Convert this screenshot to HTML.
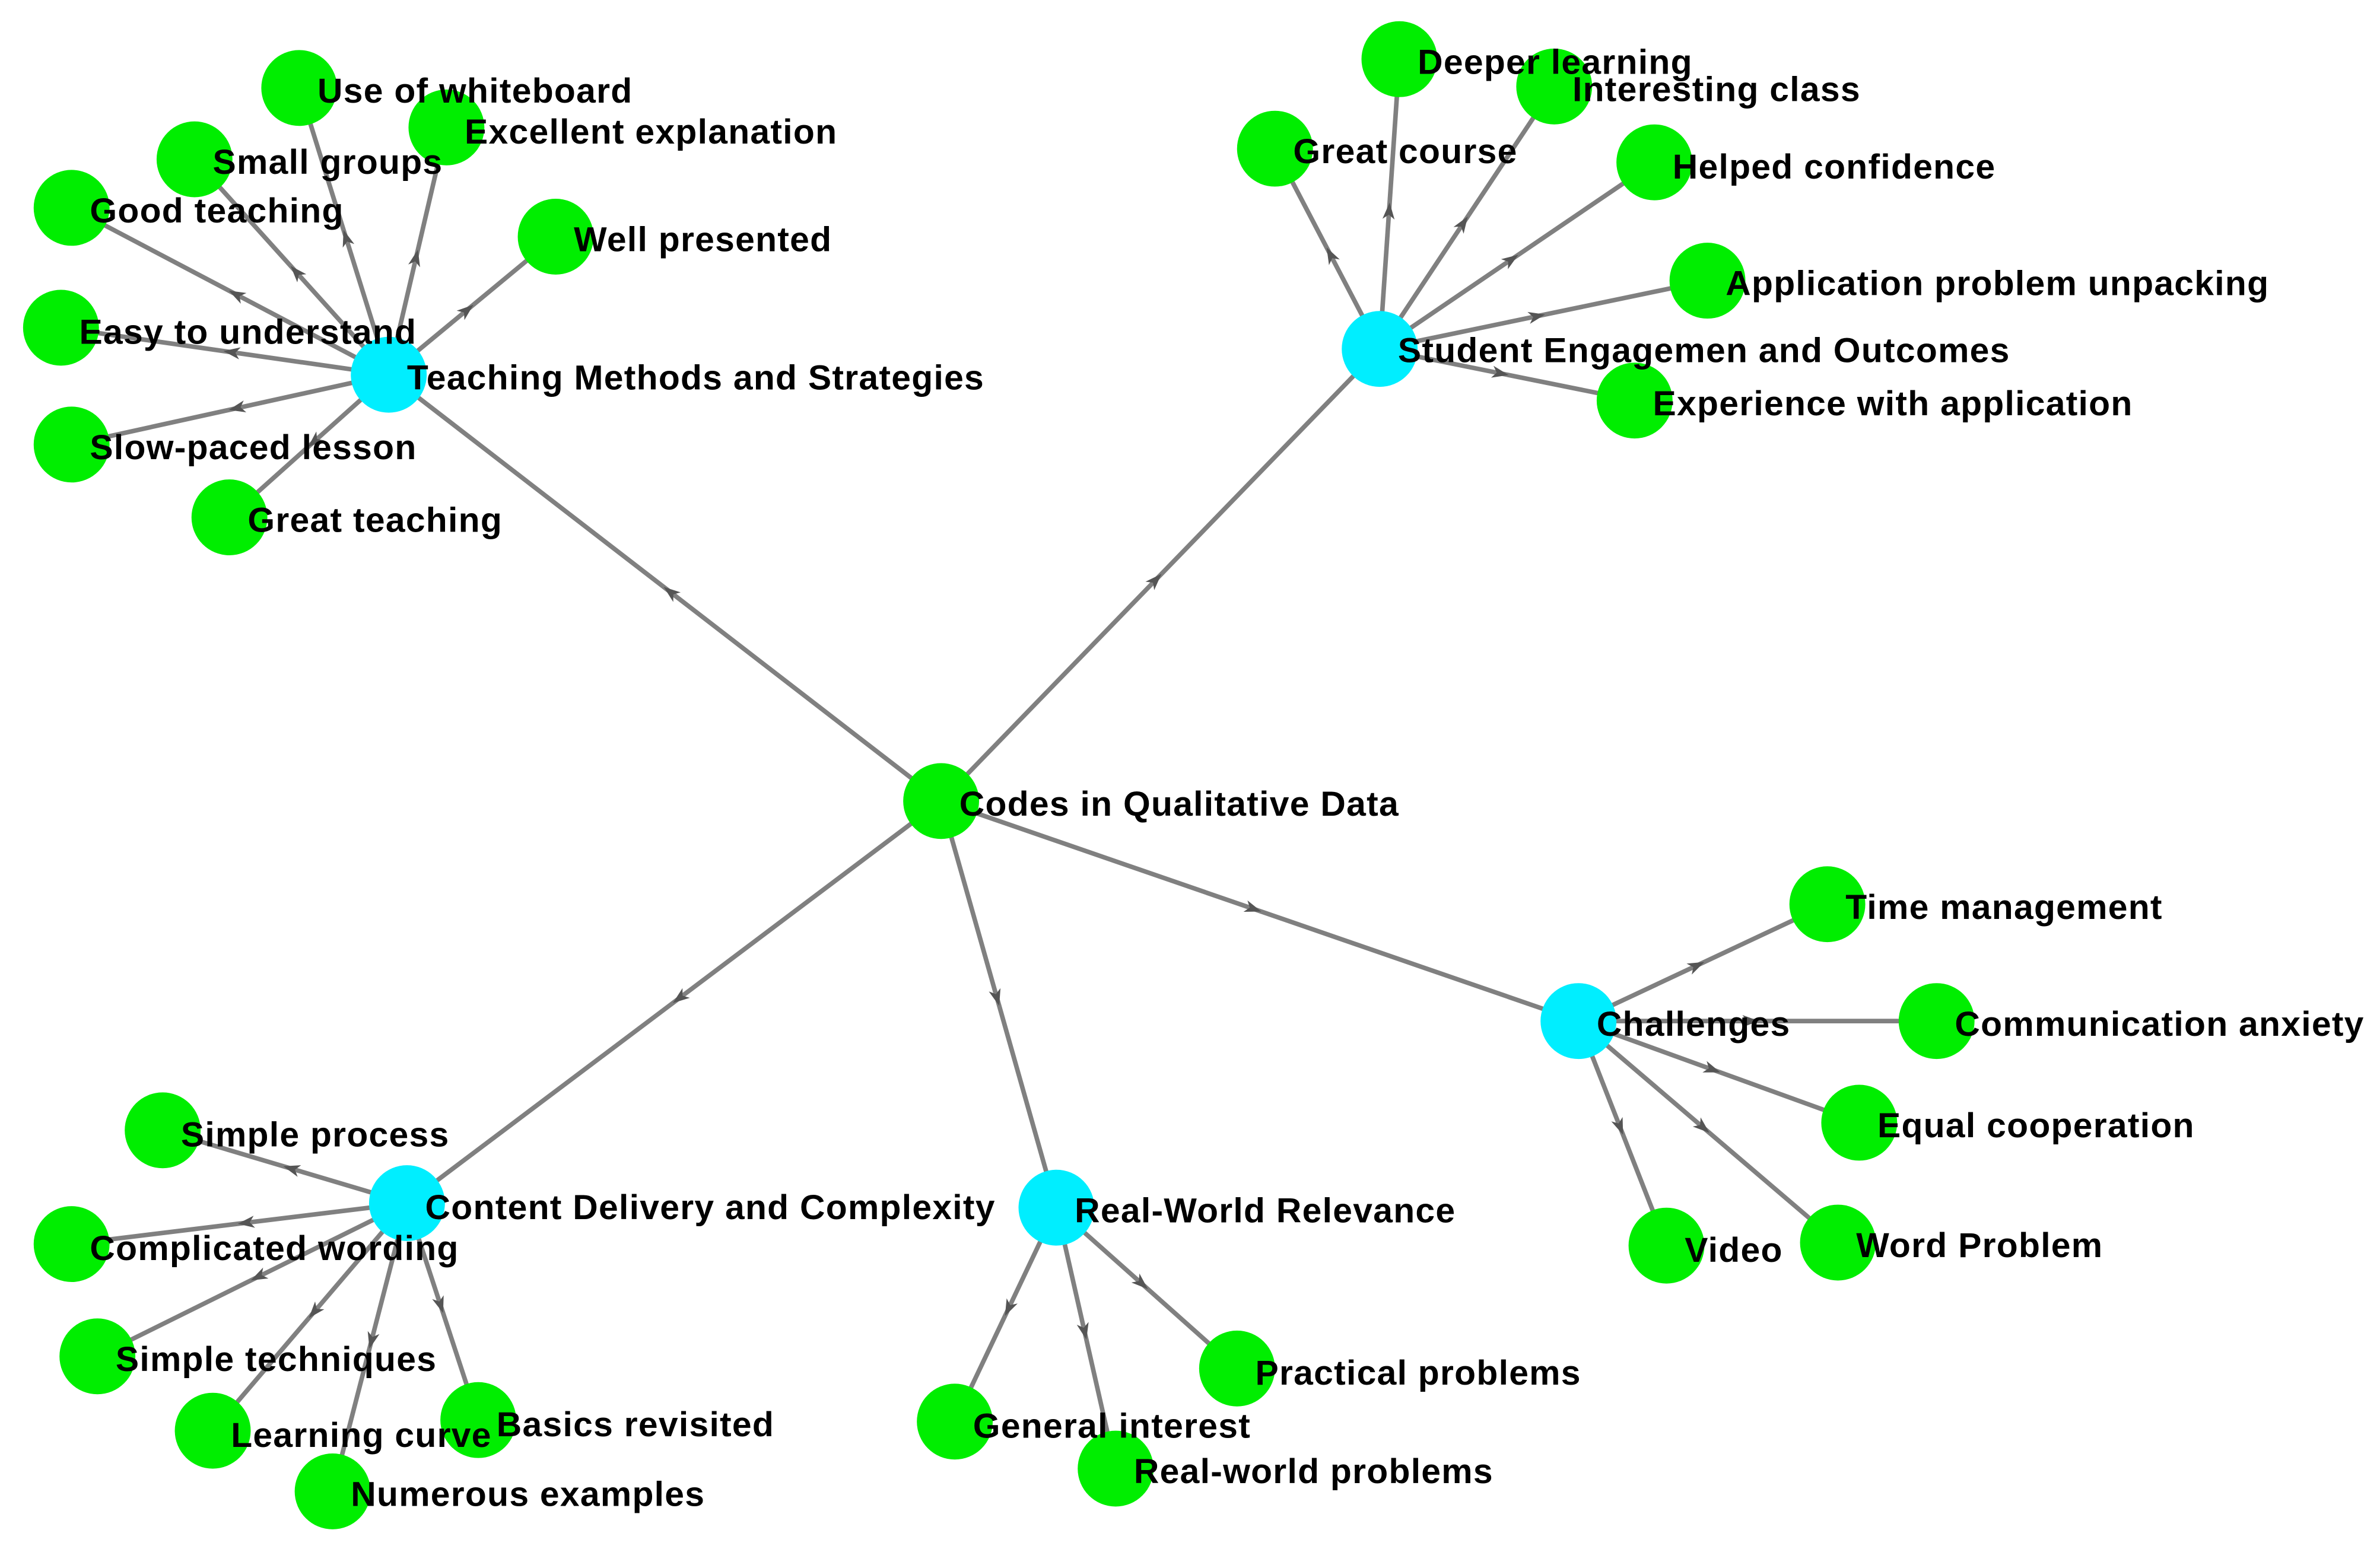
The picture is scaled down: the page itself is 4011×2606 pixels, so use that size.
<!DOCTYPE html>
<html><head><meta charset="utf-8"><style>
html,body{margin:0;padding:0;background:#fff;}
svg{display:block;}
text{font-family:"Liberation Sans",Arial,sans-serif;font-weight:bold;font-size:23px;letter-spacing:0.5px;fill:#000;dominant-baseline:central;}
</style></head><body>
<svg width="4011" height="2606" viewBox="0 0 1568 1019" xmlns="http://www.w3.org/2000/svg">
<defs>
<marker id="a" markerWidth="12" markerHeight="10" refX="10" refY="5" orient="auto" markerUnits="userSpaceOnUse">
<path d="M0,1 L11,5 L0,9 L3,5 Z" fill="#555"/>
</marker>
</defs>
<g stroke="#808080" stroke-width="3" fill="none">
<line x1="620" y1="528" x2="256" y2="247"/>
<line x1="620" y1="528" x2="909" y2="230"/>
<line x1="620" y1="528" x2="1040" y2="673"/>
<line x1="620" y1="528" x2="696" y2="796"/>
<line x1="620" y1="528" x2="268" y2="793"/>
<line x1="256" y1="247" x2="197" y2="58"/>
<line x1="256" y1="247" x2="294" y2="84"/>
<line x1="256" y1="247" x2="128" y2="105"/>
<line x1="256" y1="247" x2="47" y2="137"/>
<line x1="256" y1="247" x2="366" y2="156"/>
<line x1="256" y1="247" x2="40" y2="216"/>
<line x1="256" y1="247" x2="47" y2="293"/>
<line x1="256" y1="247" x2="151" y2="341"/>
<line x1="909" y1="230" x2="922" y2="39"/>
<line x1="909" y1="230" x2="1024" y2="57"/>
<line x1="909" y1="230" x2="840" y2="98"/>
<line x1="909" y1="230" x2="1090" y2="107"/>
<line x1="909" y1="230" x2="1125" y2="185"/>
<line x1="909" y1="230" x2="1077" y2="264"/>
<line x1="1040" y1="673" x2="1204" y2="596"/>
<line x1="1040" y1="673" x2="1276" y2="673"/>
<line x1="1040" y1="673" x2="1225" y2="740"/>
<line x1="1040" y1="673" x2="1098" y2="821"/>
<line x1="1040" y1="673" x2="1211" y2="819"/>
<line x1="696" y1="796" x2="815" y2="902"/>
<line x1="696" y1="796" x2="629" y2="937"/>
<line x1="696" y1="796" x2="735" y2="968"/>
<line x1="268" y1="793" x2="107" y2="745"/>
<line x1="268" y1="793" x2="47" y2="820"/>
<line x1="268" y1="793" x2="64" y2="894"/>
<line x1="268" y1="793" x2="140" y2="943"/>
<line x1="268" y1="793" x2="315" y2="936"/>
<line x1="268" y1="793" x2="219" y2="983"/>
</g>
<g stroke="none" fill="none" marker-end="url(#a)">
<path d="M620,528 L438,387.5"/>
<path d="M620,528 L764.5,379"/>
<path d="M620,528 L830,600.5"/>
<path d="M620,528 L658,662"/>
<path d="M620,528 L444,660.5"/>
<path d="M256,247 L226.5,152.5"/>
<path d="M256,247 L275,165.5"/>
<path d="M256,247 L192,176"/>
<path d="M256,247 L151.5,192"/>
<path d="M256,247 L311,201.5"/>
<path d="M256,247 L148,231.5"/>
<path d="M256,247 L151.5,270"/>
<path d="M256,247 L203.5,294"/>
<path d="M909,230 L915.5,134.5"/>
<path d="M909,230 L966.5,143.5"/>
<path d="M909,230 L874.5,164"/>
<path d="M909,230 L999.5,168.5"/>
<path d="M909,230 L1017,207.5"/>
<path d="M909,230 L993,247"/>
<path d="M1040,673 L1122,634.5"/>
<path d="M1040,673 L1158,673"/>
<path d="M1040,673 L1132.5,706.5"/>
<path d="M1040,673 L1069,747"/>
<path d="M1040,673 L1125.5,746"/>
<path d="M696,796 L755.5,849"/>
<path d="M696,796 L662.5,866.5"/>
<path d="M696,796 L715.5,882"/>
<path d="M268,793 L187.5,769"/>
<path d="M268,793 L157.5,806.5"/>
<path d="M268,793 L166,843.5"/>
<path d="M268,793 L204,868"/>
<path d="M268,793 L291.5,864.5"/>
<path d="M268,793 L243.5,888"/>
</g>
<g fill="#00ee00">
<circle cx="620" cy="528" r="25"/>
<circle cx="197" cy="58" r="25"/><circle cx="294" cy="84" r="25"/><circle cx="128" cy="105" r="25"/>
<circle cx="47" cy="137" r="25"/><circle cx="366" cy="156" r="25"/><circle cx="40" cy="216" r="25"/>
<circle cx="47" cy="293" r="25"/><circle cx="151" cy="341" r="25"/>
<circle cx="922" cy="39" r="25"/><circle cx="1024" cy="57" r="25"/><circle cx="840" cy="98" r="25"/>
<circle cx="1090" cy="107" r="25"/><circle cx="1125" cy="185" r="25"/><circle cx="1077" cy="264" r="25"/>
<circle cx="1204" cy="596" r="25"/><circle cx="1276" cy="673" r="25"/><circle cx="1225" cy="740" r="25"/>
<circle cx="1098" cy="821" r="25"/><circle cx="1211" cy="819" r="25"/>
<circle cx="815" cy="902" r="25"/><circle cx="629" cy="937" r="25"/><circle cx="735" cy="968" r="25"/>
<circle cx="107" cy="745" r="25"/><circle cx="47" cy="820" r="25"/><circle cx="64" cy="894" r="25"/>
<circle cx="140" cy="943" r="25"/><circle cx="315" cy="936" r="25"/><circle cx="219" cy="983" r="25"/>
</g>
<g fill="#00eeff">
<circle cx="256" cy="247" r="25"/><circle cx="909" cy="230" r="25"/><circle cx="1040" cy="673" r="25"/>
<circle cx="696" cy="796" r="25"/><circle cx="268" cy="793" r="25"/>
</g>
<g>
<text x="632" y="530">Codes in Qualitative Data</text>
<text x="268" y="249">Teaching Methods and Strategies</text>
<text x="921" y="231">Student Engagemen and Outcomes</text>
<text x="1052" y="675">Challenges</text>
<text x="708" y="798">Real-World Relevance</text>
<text x="280" y="796">Content Delivery and Complexity</text>
<text x="209" y="60">Use of whiteboard</text>
<text x="306" y="87">Excellent explanation</text>
<text x="140" y="107">Small groups</text>
<text x="59" y="139">Good teaching</text>
<text x="378" y="158">Well presented</text>
<text x="52" y="219">Easy to understand</text>
<text x="59" y="295">Slow-paced lesson</text>
<text x="163" y="343">Great teaching</text>
<text x="934" y="41">Deeper learning</text>
<text x="1036" y="59">Interesting class</text>
<text x="852" y="100">Great course</text>
<text x="1102" y="110">Helped confidence</text>
<text x="1137" y="187">Application problem unpacking</text>
<text x="1089" y="266">Experience with application</text>
<text x="1216" y="598">Time management</text>
<text x="1288" y="675">Communication anxiety</text>
<text x="1237" y="742">Equal cooperation</text>
<text x="1110" y="824">Video</text>
<text x="1223" y="821">Word Problem</text>
<text x="827" y="905">Practical problems</text>
<text x="641" y="940">General interest</text>
<text x="747" y="970">Real-world problems</text>
<text x="119" y="748">Simple process</text>
<text x="59" y="823">Complicated wording</text>
<text x="76" y="896">Simple techniques</text>
<text x="152" y="946">Learning curve</text>
<text x="327" y="939">Basics revisited</text>
<text x="231" y="985">Numerous examples</text>
</g>
</svg>
</body></html>
